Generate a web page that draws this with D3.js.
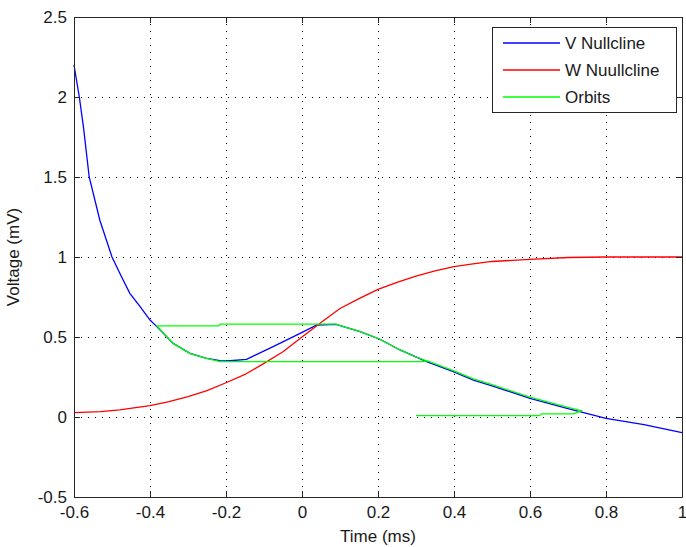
<!DOCTYPE html>
<html>
<head>
<meta charset="utf-8">
<script src="https://cdn.jsdelivr.net/npm/d3@7"></script>
<style>
    body { margin: 0; background: #fff; }
    svg { display: block; font-family: "Liberation Sans", Arial, sans-serif; }
</style>
</head>
<body>
<svg id="chart" width="686" height="547"></svg>
<script>
// V nullcline (blue)
const vX = [-0.6, -0.586, -0.575, -0.56, -0.532, -0.5, -0.475, -0.453, -0.426, -0.4, -0.382, -0.339, -0.295, -0.251, -0.216, -0.198, -0.146, -0.076, -0.005, 0.039, 0.09, 0.109, 0.153, 0.205, 0.258, 0.328, 0.398, 0.451, 0.5, 0.6, 0.7, 0.8, 0.9, 1.0];
const vY = [2.2, 2.0, 1.81, 1.5, 1.23, 1.0, 0.877, 0.773, 0.69, 0.606, 0.565, 0.46, 0.398, 0.367, 0.352, 0.35, 0.36, 0.44, 0.523, 0.575, 0.579, 0.565, 0.533, 0.486, 0.419, 0.346, 0.283, 0.231, 0.195, 0.117, 0.053, -0.008, -0.048, -0.098];

// W nullcline (red)
const wX = [-0.6, -0.53, -0.48, -0.4, -0.35, -0.3, -0.25, -0.2, -0.15, -0.1, -0.05, 0, 0.05, 0.1, 0.15, 0.2, 0.25, 0.3, 0.35, 0.4, 0.45, 0.5, 0.6, 0.7, 0.8, 0.9, 1.0];
const wY = [0.027, 0.033, 0.044, 0.071, 0.096, 0.128, 0.165, 0.214, 0.266, 0.335, 0.408, 0.5, 0.59, 0.678, 0.74, 0.798, 0.842, 0.88, 0.913, 0.94, 0.957, 0.972, 0.985, 0.997, 1.0, 1.0, 1.0];

// orbit (green)
const orbitX = [0.3, 0.625, 0.63, 0.715, 0.735, 0.7, 0.6, 0.5, 0.451, 0.398, 0.33, 0.31, -0.216, -0.251, -0.295, -0.339, -0.382, -0.22, -0.215, 0.09, 0.109, 0.153, 0.205, 0.258, 0.3, 0.33];
const orbitY = [0.008, 0.008, 0.02, 0.02, 0.04, 0.06, 0.124, 0.202, 0.238, 0.29, 0.35, 0.346, 0.346, 0.367, 0.398, 0.46, 0.569, 0.569, 0.58, 0.58, 0.565, 0.533, 0.486, 0.419, 0.375, 0.35];

const xTicks = [-0.6, -0.4, -0.2, 0, 0.2, 0.4, 0.6, 0.8, 1];
const xTickLabels = ["-0.6", "-0.4", "-0.2", "0", "0.2", "0.4", "0.6", "0.8", "1"];
const yTicks = [-0.5, 0, 0.5, 1, 1.5, 2, 2.5];
const yTickLabels = ["-0.5", "0", "0.5", "1", "1.5", "2", "2.5"];

const seriesNames = ["V Nullcline", "W Nuullcline", "Orbits"];
const seriesColors = ["#0000ff", "#ff0000", "#00ff00"];

const plotL = 74, plotR = 682, plotT = 17, plotB = 497;
const x = d3.scaleLinear().domain([-0.6, 1]).range([plotL, plotR]);
const y = d3.scaleLinear().domain([-0.5, 2.5]).range([plotB, plotT]);

const svg = d3.select("#chart");

// grid
const grid = svg.append("g")
    .attr("stroke", "#000")
    .attr("stroke-width", 1)
    .attr("stroke-dasharray", "1,6");
grid.selectAll(".gx")
    .data(xTicks.slice(1, -1))
    .enter().append("line")
    .attr("x1", d => Math.round(x(d)) + 0.5).attr("x2", d => Math.round(x(d)) + 0.5)
    .attr("y1", plotT).attr("y2", plotB);
grid.selectAll(".gy")
    .data(yTicks.slice(1, -1))
    .enter().append("line")
    .attr("y1", d => Math.round(y(d)) + 0.5).attr("y2", d => Math.round(y(d)) + 0.5)
    .attr("x1", plotL).attr("x2", plotR);

// curves
const line = d3.line().x(d => x(d[0])).y(d => y(d[1]));
const series = [
    d3.zip(vX, vY),
    d3.zip(wX, wY),
    d3.zip(orbitX, orbitY)
];
series.forEach((pts, i) => {
    svg.append("path")
        .datum(pts)
        .attr("d", line)
        .attr("fill", "none")
        .attr("stroke", seriesColors[i])
        .attr("stroke-width", 1.3);
});

// axes
const fmtX = d => xTickLabels[xTicks.indexOf(d)];
const fmtY = d => yTickLabels[yTicks.indexOf(d)];

const axisStyle = g => {
    g.attr("font-size", 17).attr("font-family", "\"Liberation Sans\", Arial, sans-serif");
    g.selectAll("path, line").attr("stroke", "#262626");
    g.selectAll("text").attr("fill", "#1a1a1a");
};

svg.append("g")
    .attr("transform", `translate(0,${plotB})`)
    .call(d3.axisBottom(x).tickValues(xTicks).tickFormat(fmtX).tickSize(-6).tickSizeOuter(0).tickPadding(9))
    .call(axisStyle);
svg.append("g")
    .attr("transform", `translate(${plotL},0)`)
    .call(d3.axisLeft(y).tickValues(yTicks).tickFormat(fmtY).tickSize(-6).tickSizeOuter(0).tickPadding(7))
    .call(axisStyle);
svg.append("g")
    .attr("transform", `translate(0,${plotT})`)
    .call(d3.axisTop(x).tickValues(xTicks).tickFormat("").tickSize(-6).tickSizeOuter(0))
    .call(axisStyle);
svg.append("g")
    .attr("transform", `translate(${plotR},0)`)
    .call(d3.axisRight(y).tickValues(yTicks).tickFormat("").tickSize(-6).tickSizeOuter(0))
    .call(axisStyle);

// axis titles
svg.append("text")
    .attr("x", (plotL + plotR) / 2)
    .attr("y", 542)
    .attr("text-anchor", "middle")
    .attr("font-size", 17)
    .attr("fill", "#1a1a1a")
    .text("Time (ms)");
svg.append("text")
    .attr("transform", `translate(19,${(plotT + plotB) / 2}) rotate(-90)`)
    .attr("text-anchor", "middle")
    .attr("font-size", 17)
    .attr("fill", "#1a1a1a")
    .text("Voltage (mV)");

// legend
const legend = svg.append("g");
legend.append("rect")
    .attr("x", 492.5).attr("y", 27.5)
    .attr("width", 184).attr("height", 85)
    .attr("fill", "#fff")
    .attr("stroke", "#262626");
seriesNames.forEach((name, i) => {
    const ly = 43 + i * 27;
    legend.append("line")
        .attr("x1", 503).attr("x2", 560)
        .attr("y1", ly).attr("y2", ly)
        .attr("stroke", seriesColors[i])
        .attr("stroke-width", 1.3);
    legend.append("text")
        .attr("x", 565).attr("y", ly)
        .attr("dy", "0.35em")
        .attr("font-size", 17)
        .attr("fill", "#1a1a1a")
        .text(name);
});
</script>
</body>
</html>
